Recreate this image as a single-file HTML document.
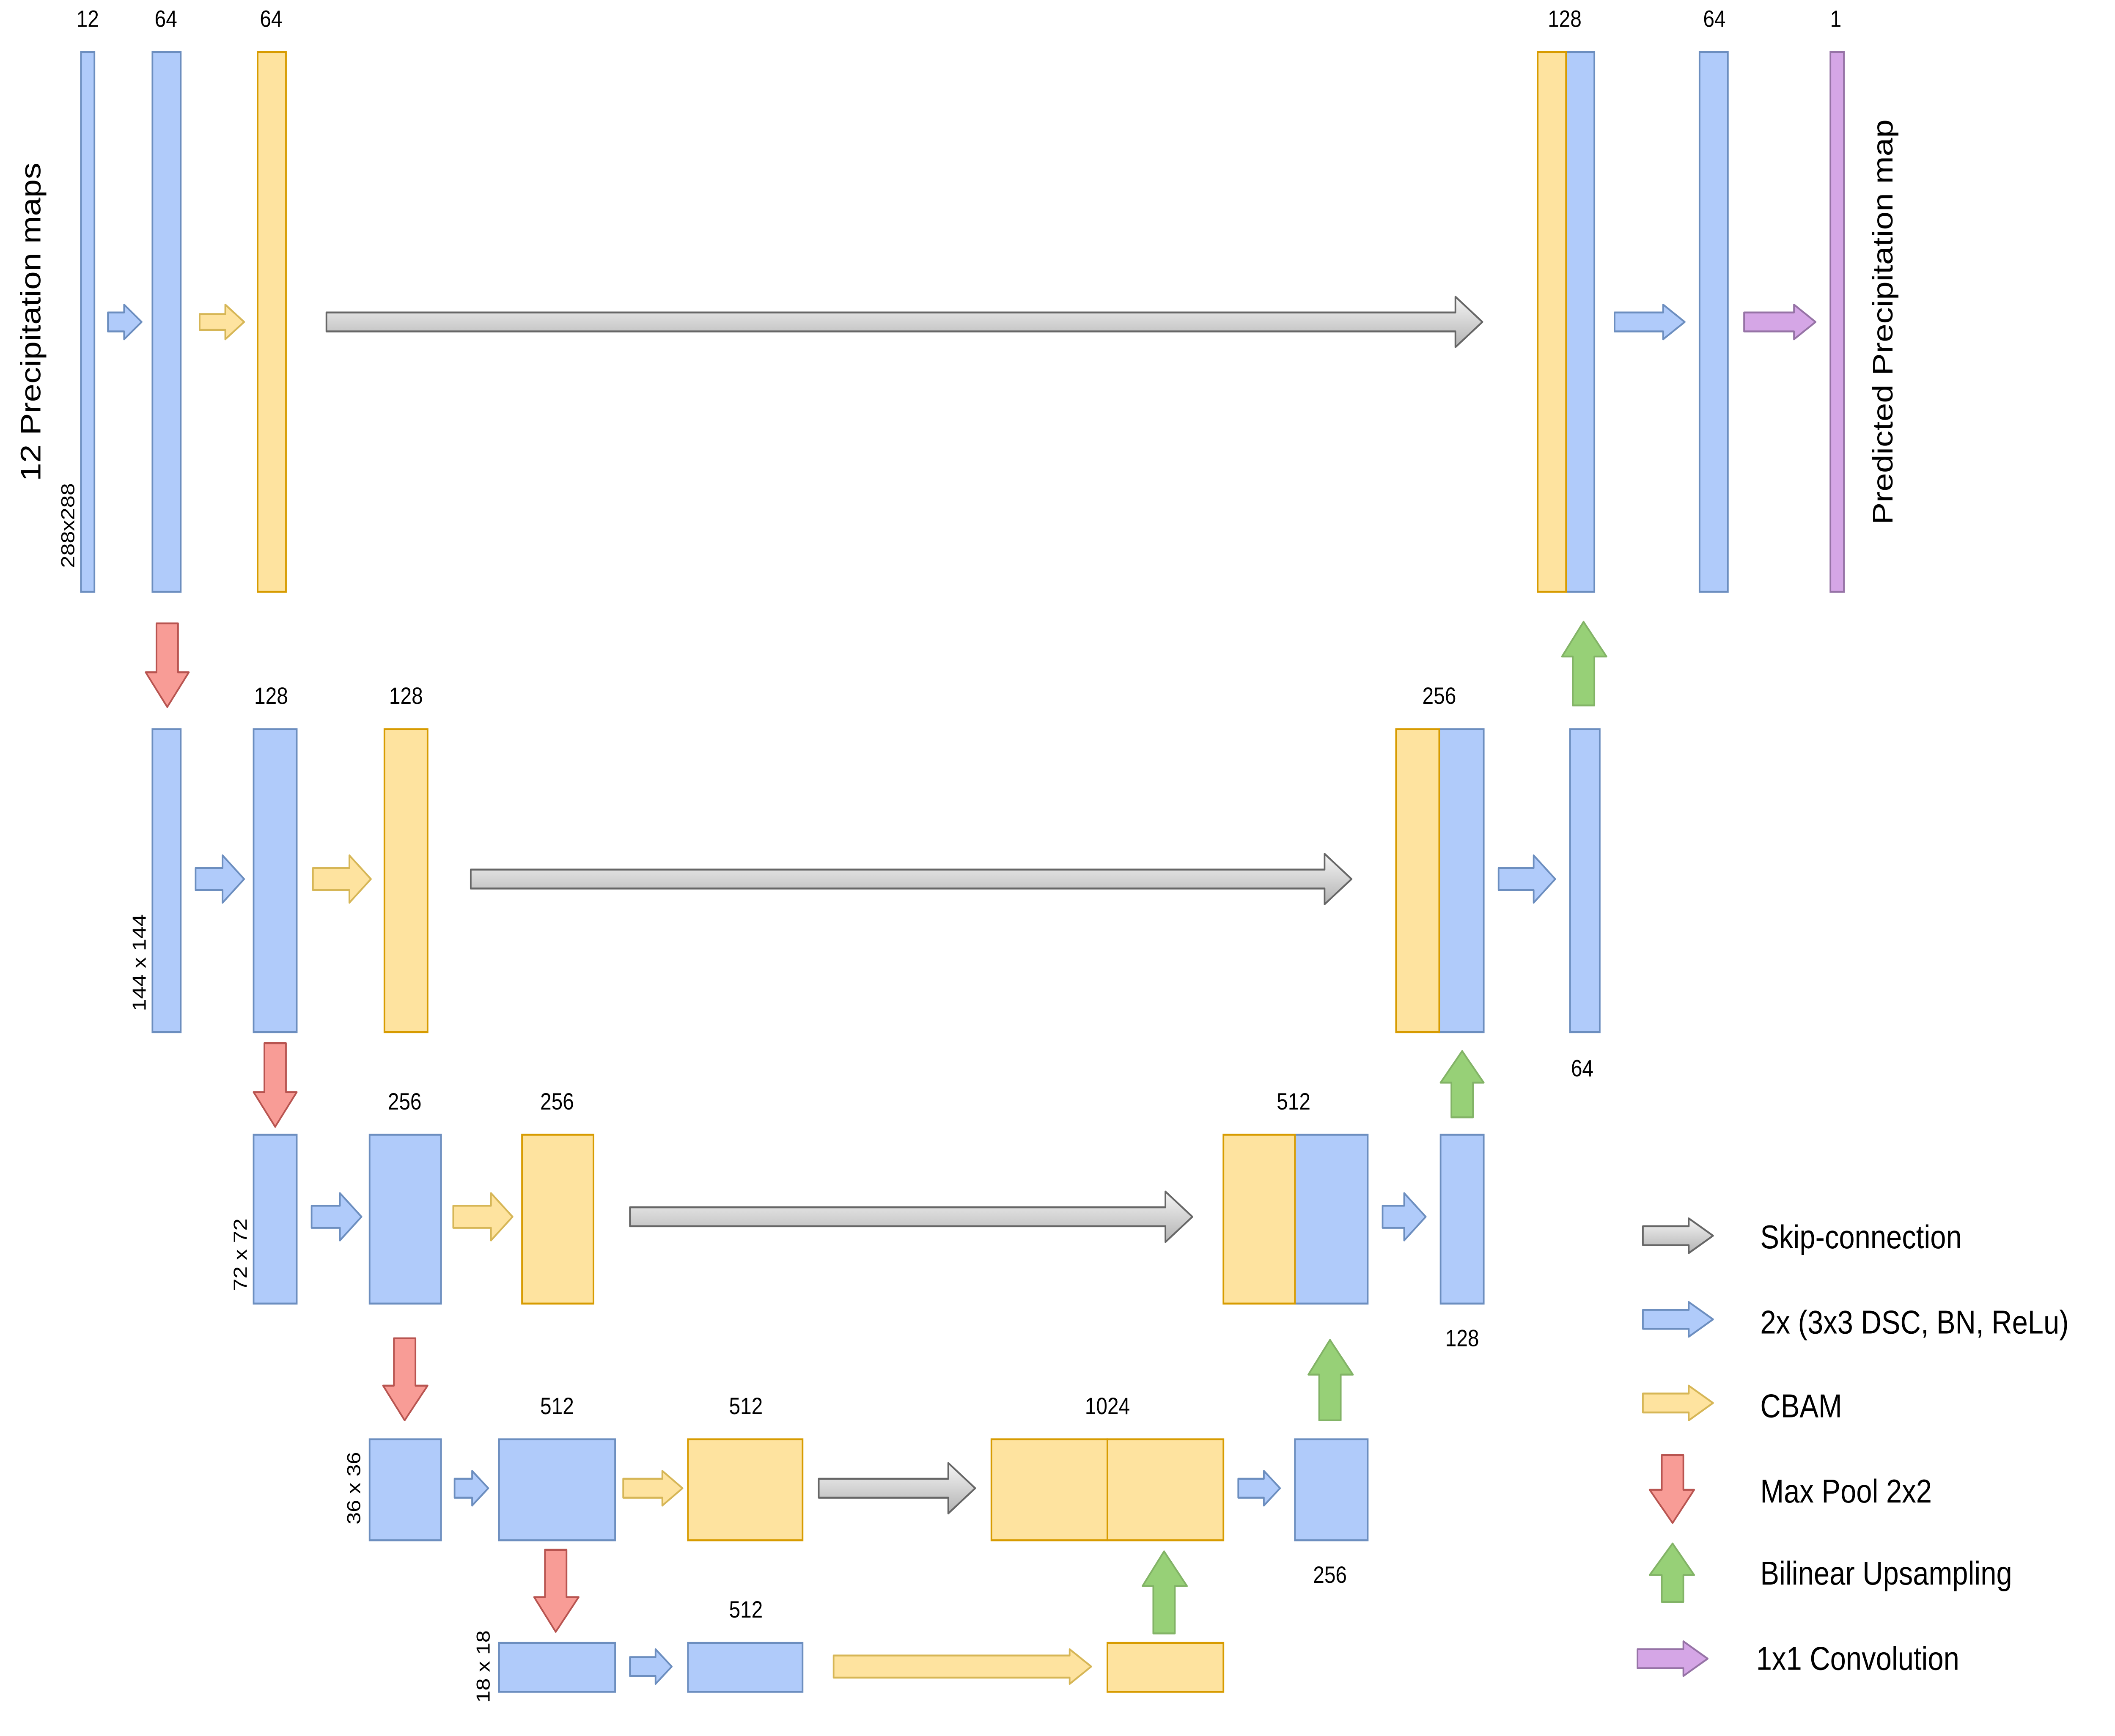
<!DOCTYPE html>
<html><head><meta charset="utf-8"><style>
html,body{margin:0;padding:0;background:#fff;overflow:hidden;width:100vw;height:100vh;}
svg{display:block;position:fixed;left:0;top:0;width:100vw;height:100vh;}
text{font-family:"Liberation Sans",Arial,sans-serif;fill:#000;}
</style></head><body>
<svg xmlns="http://www.w3.org/2000/svg" viewBox="0 0 1568 1100" preserveAspectRatio="none">
<defs>
<linearGradient id="g" x1="0" y1="0" x2="0" y2="1"><stop offset="0" stop-color="#f5f5f5"/><stop offset="1" stop-color="#b3b3b3"/></linearGradient>
</defs>
<g stroke-width="1.2">
<g fill="#b0cbfa" stroke="#6c8ebf">
<rect x="60" y="33" width="10" height="342"/>
<rect x="113" y="33" width="21" height="342"/>
<rect x="1161" y="33" width="21" height="342"/>
<rect x="1260" y="33" width="21" height="342"/>
<rect x="113" y="462" width="21" height="192"/>
<rect x="188" y="462" width="32" height="192"/>
<rect x="1067" y="462" width="33" height="192"/>
<rect x="1164" y="462" width="22" height="192"/>
<rect x="188" y="719" width="32" height="107"/>
<rect x="274" y="719" width="53" height="107"/>
<rect x="960" y="719" width="54" height="107"/>
<rect x="1068" y="719" width="32" height="107"/>
<rect x="274" y="912" width="53" height="64"/>
<rect x="370" y="912" width="86" height="64"/>
<rect x="960" y="912" width="54" height="64"/>
<rect x="370" y="1041" width="86" height="31"/>
<rect x="510" y="1041" width="85" height="31"/>
</g>
<g fill="#fee39f" stroke="#d79b00">
<rect x="191" y="33" width="21" height="342"/>
<rect x="1140" y="33" width="21" height="342"/>
<rect x="285" y="462" width="32" height="192"/>
<rect x="1035" y="462" width="32" height="192"/>
<rect x="387" y="719" width="53" height="107"/>
<rect x="907" y="719" width="53" height="107"/>
<rect x="510" y="912" width="85" height="64"/>
<rect x="735" y="912" width="86" height="64"/>
<rect x="821" y="912" width="86" height="64"/>
<rect x="821" y="1041" width="86" height="31"/>
</g>
<rect x="1357" y="33" width="10" height="342" fill="#d5a6e6" stroke="#9673a6"/>
<g fill="#b0cbfa" stroke="#6c8ebf" stroke-linejoin="round">
<path d="M80,198H92V193L105,204L92,215V210H80Z"/>
<path d="M1197,198H1233V193L1249,204L1233,215V210H1197Z"/>
<path d="M145,550H165V542L181,557L165,572V564H145Z"/>
<path d="M1111,550H1137V542L1153,557L1137,572V564H1111Z"/>
<path d="M231,764H252V756L268,771L252,786V778H231Z"/>
<path d="M1025,764H1041V756L1057,771L1041,786V778H1025Z"/>
<path d="M337,937H350V932L362,943L350,954V949H337Z"/>
<path d="M918,937H937V932L949,943L937,954V949H918Z"/>
<path d="M467,1050H486V1045L498,1056L486,1067V1062H467Z"/>
<path d="M1218,830H1252V825L1270,836L1252,847V842H1218Z"/>
</g>
<g fill="#fee39f" stroke="#d6b656" stroke-linejoin="round">
<path d="M148,199H167V193L181,204L167,215V209H148Z"/>
<path d="M232,550H259V542L275,557L259,572V564H232Z"/>
<path d="M336,764H364V756L380,771L364,786V778H336Z"/>
<path d="M462,937H491V932L506,943L491,954V949H462Z"/>
<path d="M618,1049H793V1045L809,1056L793,1067V1063H618Z"/>
<path d="M1218,883H1252V878L1270,889L1252,900V895H1218Z"/>
</g>
<g fill="url(#g)" stroke="#666" stroke-linejoin="round">
<path d="M242,198H1079V188L1099,204L1079,220V210H242Z"/>
<path d="M349,551H982V541L1002,557L982,573V563H349Z"/>
<path d="M467,765H864V755L884,771L864,787V777H467Z"/>
<path d="M607,937H703V927L723,943L703,959V949H607Z"/>
<path d="M1218,777H1252V772L1270,783L1252,794V789H1218Z"/>
</g>
<g fill="#d5a6e6" stroke="#9673a6" stroke-linejoin="round">
<path d="M1293,198H1330V193L1346,204L1330,215V210H1293Z"/>
<path d="M1214,1045H1248V1040L1266,1051L1248,1062V1057H1214Z"/>
</g>
<g fill="#f89c96" stroke="#b85450" stroke-linejoin="round">
<path d="M116,395H132V426H140L124,448L108,426H116Z"/>
<path d="M196,661H212V692H220L204,714L188,692H196Z"/>
<path d="M292,848H308V878H317L300,900L284,878H292Z"/>
<path d="M404,982H420V1012H429L412,1034L396,1012H404Z"/>
<path d="M1232,922H1248V944H1256L1240,965L1223,944H1232Z"/>
</g>
<g fill="#97d077" stroke="#82b366" stroke-linejoin="round">
<path d="M1166,447H1182V416H1191L1174,394L1158,416H1166Z"/>
<path d="M1076,708H1092V686H1100L1084,666L1068,686H1076Z"/>
<path d="M978,900H994V871H1003L986,849L970,871H978Z"/>
<path d="M855,1035H871V1005H880L863,983L847,1005H855Z"/>
<path d="M1232,1015H1248V998H1256L1240,978L1223,998H1232Z"/>
</g>
</g>
<g font-size="15" text-anchor="middle">
<text x="65" y="17">12</text><text x="123" y="17">64</text><text x="201" y="17">64</text>
<text x="1160" y="17">128</text><text x="1271" y="17">64</text><text x="1361" y="17">1</text>
<text x="201" y="446">128</text><text x="301" y="446">128</text><text x="1067" y="446">256</text><text x="1173" y="682">64</text>
<text x="300" y="703">256</text><text x="413" y="703">256</text><text x="959" y="703">512</text><text x="1084" y="853">128</text>
<text x="413" y="896">512</text><text x="553" y="896">512</text><text x="821" y="896">1024</text><text x="986" y="1003">256</text>
<text x="553" y="1025">512</text>
</g>
<g font-size="14" text-anchor="middle">
<text transform="translate(55,333) rotate(-90)">288x288</text>
<text transform="translate(108,610) rotate(-90)">144 x 144</text>
<text transform="translate(183,795) rotate(-90)">72 x 72</text>
<text transform="translate(267,943) rotate(-90)">36 x 36</text>
<text transform="translate(363,1056) rotate(-90)">18 x 18</text>
</g>
<g font-size="21" text-anchor="middle">
<text transform="translate(30,204) rotate(-90)">12 Precipitation maps</text>
<text transform="translate(1403,204) rotate(-90)">Predicted Precipitation map</text>
</g>
<g font-size="21">
<text x="1305" y="791">Skip-connection</text>
<text x="1305" y="845">2x (3x3 DSC, BN, ReLu)</text>
<text x="1305" y="898">CBAM</text>
<text x="1305" y="952">Max Pool 2x2</text>
<text x="1305" y="1004">Bilinear Upsampling</text>
<text x="1302" y="1058">1x1 Convolution</text>
</g>
</svg>
</body></html>
